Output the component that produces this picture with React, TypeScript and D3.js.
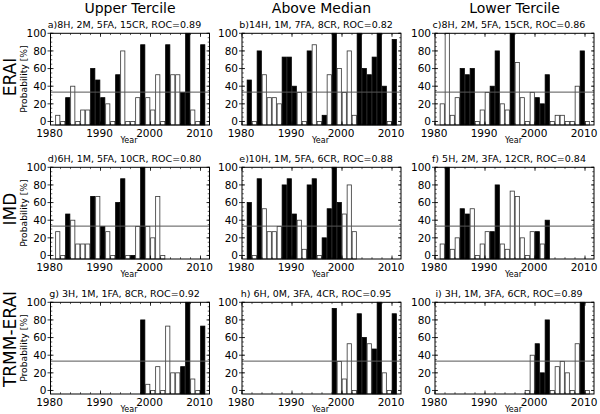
import React from 'react';
import * as d3 from 'd3';

// ---------- data ----------
const yearsERAI = [1981, 1982, 1983, 1984, 1985, 1986, 1987, 1988, 1989, 1990, 1991, 1992, 1993, 1994, 1995, 1996, 1997, 1998, 1999, 2000, 2001, 2002, 2003, 2004, 2005, 2006, 2007, 2008, 2009, 2010];
const yearsIMD = [1981, 1982, 1983, 1984, 1985, 1986, 1987, 1988, 1989, 1990, 1991, 1992, 1993, 1994, 1995, 1996, 1997, 1998, 1999, 2000, 2001, 2002];
const yearsTRMM = [1998, 1999, 2000, 2001, 2002, 2003, 2004, 2005, 2006, 2007, 2008, 2009, 2010];

// forecast probability [%]
const probA = [7, 0, 27, 40, 0, 13, 13, 60, 47, 27, 20, 0, 53, 80, 0, 0, 27, 87, 27, 13, 53, 0, 87, 53, 53, 33, 100, 13, 0, 87];
const probB = [47, 0, 80, 53, 27, 27, 20, 73, 73, 40, 33, 0, 80, 87, 0, 7, 53, 100, 60, 33, 80, 7, 100, 60, 53, 73, 100, 40, 0, 93];
const probC = [20, 100, 7, 27, 60, 53, 60, 0, 13, 33, 40, 80, 20, 13, 100, 67, 27, 0, 33, 27, 20, 53, 0, 7, 7, 0, 0, 40, 80, 0];
const probD = [27, 0, 47, 40, 13, 13, 13, 67, 67, 33, 27, 0, 60, 87, 0, 0, 33, 100, 33, 20, 67, 0];
const probE = [60, 0, 87, 53, 27, 27, 33, 80, 87, 47, 40, 7, 80, 87, 0, 20, 53, 100, 60, 47, 80, 27];
const probF = [13, 100, 7, 20, 53, 47, 53, 0, 13, 27, 27, 80, 13, 7, 73, 67, 20, 0, 27, 27, 13, 40];
const probG = [80, 7, 0, 27, 0, 73, 20, 20, 27, 100, 13, 0, 73];
const probH = [93, 33, 13, 53, 0, 87, 60, 53, 47, 100, 20, 0, 87];
const probI = [0, 40, 53, 20, 80, 0, 27, 33, 20, 0, 53, 100, 0];

// observed event (1 = black bar)
const obsA = [0, 0, 1, 0, 0, 0, 0, 1, 1, 1, 0, 0, 1, 0, 0, 0, 0, 1, 0, 0, 0, 0, 1, 0, 0, 1, 1, 0, 0, 1];
const obsB = [1, 0, 1, 0, 0, 0, 0, 1, 1, 1, 0, 0, 1, 0, 0, 1, 0, 1, 0, 0, 0, 0, 1, 1, 1, 1, 1, 1, 0, 1];
const obsC = [0, 0, 0, 0, 1, 1, 1, 0, 0, 0, 1, 1, 0, 0, 1, 0, 0, 0, 0, 1, 1, 1, 0, 0, 0, 0, 0, 0, 1, 0];
const obsD = [0, 0, 1, 0, 0, 0, 0, 1, 0, 1, 0, 0, 1, 1, 0, 1, 0, 1, 0, 0, 0, 0];
const obsE = [1, 0, 1, 0, 0, 0, 0, 1, 1, 1, 0, 0, 1, 1, 0, 1, 1, 1, 1, 0, 0, 0];
const obsF = [0, 1, 0, 0, 1, 1, 0, 0, 0, 0, 1, 1, 0, 0, 0, 0, 0, 0, 0, 1, 0, 1];
const obsG = [1, 0, 0, 0, 0, 0, 0, 0, 1, 1, 0, 0, 1];
const obsH = [1, 0, 0, 0, 0, 1, 1, 0, 1, 1, 0, 0, 1];
const obsI = [0, 0, 1, 1, 1, 0, 0, 0, 0, 0, 0, 1, 0];

const columnTitles = ['Upper Tercile', 'Above Median', 'Lower Tercile'];
const rowLabels = ['ERAI', 'IMD', 'TRMM-ERAI'];
const captions = [
  'a)8H, 2M, 5FA, 15CR, ROC=0.89',
  'b)14H, 1M, 7FA, 8CR, ROC=0.82',
  'c)8H, 2M, 5FA, 15CR, ROC=0.86',
  'd)6H, 1M, 5FA, 10CR, ROC=0.80',
  'e)10H, 1M, 5FA, 6CR, ROC=0.88',
  'f) 5H, 2M, 3FA, 12CR, ROC=0.84',
  'g) 3H, 1M, 1FA, 8CR, ROC=0.92',
  'h) 6H, 0M, 3FA, 4CR, ROC=0.95',
  'i)  3H, 1M, 3FA, 6CR, ROC=0.89',
];
const yTicks = [0, 20, 40, 60, 80, 100];
const xTicks = [1980, 1990, 2000, 2010];
const threshold = 33.3;

// ---------- layout ----------
const FONT = "'DejaVu Sans', Verdana, sans-serif";
const PW = 159;
const PH = 91.7;
const colLefts = [50.5, 242, 435];
const rowTops = [33.3, 167.3, 302.3];
const rowLabelY = [77, 209, 339];

type PanelProps = {
  left: number; top: number; years: number[]; probs: number[]; obs: number[];
  caption: string; showYLabel: boolean;
};

function Panel({ left, top, years, probs, obs, caption, showYLabel }: PanelProps) {
  const x = d3.scaleLinear().domain([1980, 2011.8]).range([left, left + PW]);
  const y = d3.scaleLinear().domain([-4, 100]).range([top + PH, top]);
  const bw = x(1980.84) - x(1980);
  const bottom = y(-4);
  const minorY = d3.range(0, 101, 5);
  const minorX = d3.range(1980, 2012, 2);
  return (
    <g>
      {years.map((yr, i) => {
        const v = probs[i];
        const black = obs[i] === 1;
        const cx = x(yr + 0.45);
        return (
          <rect key={yr} x={cx - bw / 2} y={y(v)} width={bw} height={bottom - y(v)}
            fill={black ? '#000' : '#fff'} stroke={black ? '#000' : '#333'} strokeWidth={0.8} />
        );
      })}
      <line x1={left} x2={left + PW} y1={y(threshold)} y2={y(threshold)} stroke="#555" strokeWidth={1} />
      {minorY.map(t => (
        <g key={'my' + t}>
          <line x1={left} x2={left + 1.8} y1={y(t)} y2={y(t)} stroke="#000" strokeWidth={0.6} />
          <line x1={left + PW} x2={left + PW - 1.8} y1={y(t)} y2={y(t)} stroke="#000" strokeWidth={0.6} />
        </g>
      ))}
      {minorX.map(t => (
        <g key={'mx' + t}>
          <line x1={x(t)} x2={x(t)} y1={bottom} y2={bottom - 1.8} stroke="#000" strokeWidth={0.6} />
          <line x1={x(t)} x2={x(t)} y1={top} y2={top + 1.8} stroke="#000" strokeWidth={0.6} />
        </g>
      ))}
      {yTicks.map(t => (
        <g key={'y' + t}>
          <line x1={left - 3} x2={left + 3} y1={y(t)} y2={y(t)} stroke="#000" strokeWidth={0.8} />
          <line x1={left + PW} x2={left + PW - 3} y1={y(t)} y2={y(t)} stroke="#000" strokeWidth={0.8} />
          <text x={left - 4} y={y(t)} dy="0.36em" textAnchor="end" fontSize={10.5} fontFamily={FONT}>{t}</text>
        </g>
      ))}
      {xTicks.map(t => (
        <g key={'x' + t}>
          <line x1={x(t)} x2={x(t)} y1={bottom} y2={bottom - 3.5} stroke="#000" strokeWidth={0.8} />
          <line x1={x(t)} x2={x(t)} y1={top} y2={top + 3.5} stroke="#000" strokeWidth={0.8} />
          <text x={x(t) - 1} y={bottom + 11.7} textAnchor="middle" fontSize={10.5} fontFamily={FONT}>{t}</text>
        </g>
      ))}
      <rect x={left} y={top} width={PW} height={PH} fill="none" stroke="#000" strokeWidth={1} />
      <text x={left + 74} y={top - 5.5} textAnchor="middle" fontSize={9.5} fontFamily={FONT}>{caption}</text>
      <text x={left + PW / 2 - 1} y={bottom + 18} textAnchor="middle" fontSize={8} fontFamily={FONT}>Year</text>
      {showYLabel && (
        <text transform={`translate(${left - 24},${top + PH / 2}) rotate(-90)`} textAnchor="middle"
          fontSize={9.2} fontFamily={FONT}>Probability [%]</text>
      )}
    </g>
  );
}

export default function App() {
  const years = [yearsERAI, yearsIMD, yearsTRMM];
  const probs = [[probA, probB, probC], [probD, probE, probF], [probG, probH, probI]];
  const obs = [[obsA, obsB, obsC], [obsD, obsE, obsF], [obsG, obsH, obsI]];
  return (
    <svg width={600} height={414} style={{ position: 'absolute', left: 0, top: 0, background: '#fff' }}>
      <rect x={0} y={0} width={600} height={414} fill="#fff" />
      {columnTitles.map((t, c) => (
        <text key={t} x={colLefts[c] + PW / 2} y={12.5} textAnchor="middle" fontSize={14} fontFamily={FONT}>{t}</text>
      ))}
      {rowLabels.map((t, r) => (
        <text key={t} transform={`translate(16,${rowLabelY[r]}) rotate(-90)`} textAnchor="middle"
          fontSize={17} fontFamily={FONT}>{t}</text>
      ))}
      {rowTops.map((top, r) =>
        colLefts.map((left, c) => (
          <Panel key={r + '-' + c} left={left} top={top} years={years[r]} probs={probs[r][c]} obs={obs[r][c]}
            caption={captions[r * 3 + c]} showYLabel={c === 0} />
        ))
      )}
    </svg>
  );
}
